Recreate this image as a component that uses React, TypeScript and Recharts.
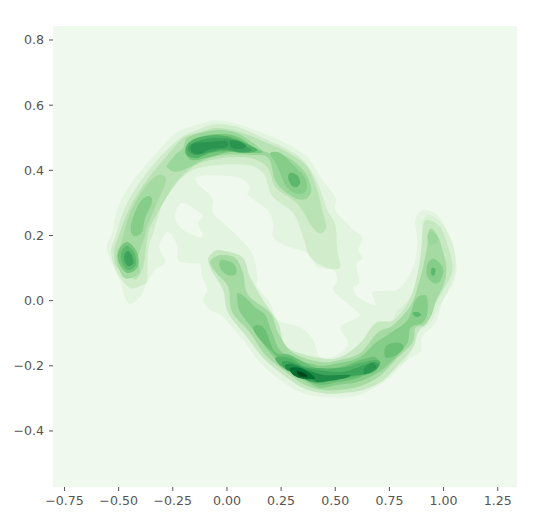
import { ScatterChart, Scatter, XAxis, YAxis, CartesianGrid } from 'recharts';

type Pt = [number, number];

const xTicks = [-0.75, -0.5, -0.25, 0, 0.25, 0.5, 0.75, 1, 1.25];
const yTicks = [-0.4, -0.2, 0, 0.2, 0.4, 0.6, 0.8];

const bgColor = '#f0f9ee';
const greens = ['#e3f4e0', '#d0ecca', '#c6e8c0', '#bae3b5', '#a5dba3', '#9ad79a', '#85cd88', '#78c67c', '#6cc075', '#5cb86c', '#52b366', '#3da35a', '#2a9450', '#1f8a46', '#006f30', '#00441b', '#d8f0d3'];

// lightest band, the whole S
const level1: Pt[] = [[-.457,-.007],[-.494,.063],[-.554,.155],[-.530,.207],[-.503,.287],[-.438,.364],[-.355,.431],[-.249,.508],[-.170,.533],[-.045,.554],[.061,.539],[.167,.514],[.260,.487],[.371,.441],[.431,.379],[.500,.318],[.500,.278],[.569,.226],[.625,.193],[.606,.155],[.625,.131],[.597,.109],[.611,.054],[.583,.042],[.606,.011],[.685,-.014],[.671,.026],[.731,.030],[.800,.039],[.860,.103],[.879,.177],[.870,.247],[.907,.278],[.971,.263],[1.022,.207],[1.059,.115],[1.045,.054],[.999,.002],[.962,-.068],[.902,-.111],[.893,-.158],[.833,-.182],[.754,-.234],[.662,-.274],[.569,-.296],[.463,-.296],[.352,-.284],[.246,-.244],[.153,-.191],[.075,-.121],[-.018,-.050],[-.078,-.029],[-.110,.002],[-.091,.033],[-.115,.073],[-.124,.112],[-.170,.115],[-.226,.125],[-.230,.171],[-.272,.211],[-.309,.177],[-.309,.155],[-.286,.118],[-.332,.094],[-.369,.054],[-.401,.011]];
const holeA: Pt[] = [[-.239,.257],[-.207,.300],[-.115,.263],[-.133,.238],[-.115,.195],[-.202,.217]];
const holeB: Pt[] = [[-.138,.379],[-.064,.385],[.061,.376],[.107,.346],[.098,.324],[.186,.278],[.213,.238],[.213,.195],[.260,.171],[.371,.146],[.417,.103],[.491,.094],[.509,.063],[.491,.033],[.537,.002],[.606,-.038],[.602,-.053],[.523,-.081],[.560,-.130],[.509,-.167],[.431,-.173],[.398,-.121],[.338,-.081],[.237,-.060],[.200,-.007],[.140,.042],[.140,.073],[.116,.146],[.029,.211],[-.064,.269],[-.068,.315],[-.138,.361]];

const level2Right: Pt[] = [[.768,-.060],[.847,.011],[.883,.085],[.902,.177],[.902,.238],[.930,.263],[.985,.241],[1.041,.177],[1.055,.103],[1.022,.033],[.976,-.020],[.939,-.068],[.883,-.096],[.860,-.142],[.800,-.191]];
const level2Upper: Pt[] = [[-.447,.039],[-.507,.085],[-.535,.146],[-.517,.192],[-.470,.287],[-.401,.364],[-.323,.431],[-.216,.499],[-.138,.524],[-.045,.542],[.061,.530],[.167,.499],[.260,.471],[.352,.431],[.417,.364],[.463,.278],[.500,.232],[.509,.155],[.523,.103],[.463,.100],[.384,.134],[.352,.195],[.306,.269],[.213,.318],[.167,.392],[.093,.416],[-.045,.416],[-.156,.401],[-.230,.361],[-.295,.300],[-.318,.257],[-.341,.207],[-.364,.155],[-.369,.063],[-.392,.048]];
const level2Lower: Pt[] = [[-.031,.155],[.070,.134],[.107,.072],[.167,.002],[.237,-.069],[.278,-.143],[.431,-.176],[.523,-.173],[.615,-.130],[.685,-.069],[.768,-.060],[.837,-.004],[.870,.054],[.893,.134],[.907,.232],[.930,.247],[.985,.226],[1.022,.164],[1.041,.094],[.999,.033],[.953,-.019],[.925,-.068],[.883,-.096],[.860,-.142],[.800,-.191],[.722,-.244],[.629,-.274],[.523,-.284],[.445,-.284],[.352,-.268],[.260,-.228],[.167,-.176],[.093,-.112],[.006,-.038],[-.018,.033],[-.064,.085],[-.087,.125],[-.064,.149]];

const level3Upper: Pt[] = [[-.438,.069],[-.507,.103],[-.521,.149],[-.503,.192],[-.447,.287],[-.369,.370],[-.286,.438],[-.202,.499],[-.124,.517],[-.045,.530],[.061,.517],[.177,.487],[.278,.456],[.371,.410],[.417,.339],[.440,.278],[.458,.226],[.431,.207],[.394,.226],[.338,.287],[.292,.315],[.223,.349],[.186,.410],[.107,.438],[-.018,.438],[-.124,.422],[-.193,.392],[-.249,.349],[-.346,.238],[-.369,.186],[-.387,.103],[-.415,.069]];
const level3Lower: Pt[] = [[-.031,.140],[.038,.131],[.075,.085],[.098,.017],[.200,-.038],[.237,-.099],[.306,-.161],[.431,-.188],[.523,-.182],[.615,-.161],[.694,-.099],[.768,-.075],[.847,-.016],[.883,.048],[.907,.109],[.925,.171],[.930,.211],[.948,.220],[.976,.195],[.999,.146],[1.013,.103],[1.004,.054],[.967,.002],[.944,-.044],[.911,-.075],[.870,-.084],[.856,-.130],[.777,-.182],[.699,-.234],[.602,-.265],[.509,-.274],[.440,-.274],[.361,-.259],[.278,-.222],[.177,-.167],[.107,-.099],[.024,-.035],[.006,.042],[-.041,.079],[-.078,.118]];

const level4Left: Pt[] = [[-.318,.385],[-.281,.370],[-.323,.300],[-.369,.226],[-.378,.201],[-.410,.134],[-.405,.085],[-.475,.070],[-.510,.134],[-.484,.186],[-.447,.269],[-.378,.349]];
const level4Top: Pt[] = [[-.276,.416],[-.239,.447],[-.202,.469],[-.184,.499],[-.110,.517],[-.031,.524],[.047,.514],[.121,.484],[.177,.456],[.260,.447],[.352,.401],[.389,.346],[.371,.315],[.324,.312],[.260,.339],[.223,.370],[.190,.438],[.107,.447],[-.018,.447],[-.110,.431],[-.179,.407],[-.239,.395],[-.272,.407]];
const level4Spot: Pt[] = [[-.027,.125],[.033,.112],[.042,.082],[.001,.079],[-.031,.100]];
const level4Lower: Pt[] = [[.052,.023],[.084,.011],[.130,-.020],[.177,-.044],[.209,-.099],[.260,-.161],[.417,-.198],[.523,-.191],[.615,-.173],[.685,-.130],[.754,-.099],[.833,-.060],[.870,.002],[.907,.017],[.925,.008],[.925,-.038],[.902,-.068],[.847,-.084],[.833,-.130],[.768,-.182],[.694,-.222],[.602,-.250],[.509,-.259],[.431,-.268],[.371,-.250],[.292,-.219],[.200,-.161],[.130,-.096],[.061,-.035],[.047,.011]];
const level4Oval: Pt[] = [[.957,.128],[.990,.109],[.999,.088],[.981,.057],[.953,.054],[.925,.073],[.921,.100],[.930,.118]];
const level4Head: Pt[] = [[.948,.211],[.971,.195],[.967,.177],[.939,.171],[.925,.192],[.930,.207]];

const level5Left: Pt[] = [[-.360,.321],[-.346,.303],[-.378,.253],[-.392,.211],[-.424,.198],[-.443,.211],[-.438,.247],[-.401,.303]];
const level5Tip: Pt[] = [[-.460,.180],[-.415,.148],[-.412,.103],[-.460,.085],[-.500,.118],[-.500,.155]];
const level5Top: Pt[] = [[-.193,.468],[-.161,.493],[-.091,.508],[.001,.511],[.061,.499],[.121,.471],[.167,.456],[.121,.453],[.015,.456],[-.078,.441],[-.156,.431],[-.189,.447]];
const level5Arm: Pt[] = [[.200,.453],[.246,.453],[.306,.416],[.361,.376],[.366,.339],[.329,.327],[.278,.346],[.246,.392],[.223,.425]];
const level5Lower: Pt[] = [[.144,-.075],[.177,-.090],[.223,-.158],[.292,-.167],[.417,-.207],[.523,-.204],[.615,-.182],[.685,-.173],[.694,-.207],[.602,-.238],[.509,-.250],[.431,-.259],[.371,-.244],[.301,-.213],[.209,-.158],[.144,-.112],[.121,-.084]];
const level5Patch: Pt[] = [[.731,-.142],[.768,-.130],[.810,-.133],[.810,-.152],[.763,-.173],[.731,-.173]];
const level5Fleck: Pt[] = [[.856,-.038],[.879,-.035],[.897,-.044],[.874,-.050]];
const level5Dot: Pt[] = [[.945,.100],[.962,.097],[.958,.078],[.944,.080]];

const level6Lower: Pt[] = [[.223,-.176],[.292,-.176],[.371,-.204],[.523,-.207],[.615,-.191],[.685,-.182],[.708,-.191],[.676,-.219],[.583,-.234],[.491,-.244],[.417,-.253],[.338,-.234],[.260,-.207]];
const level6Top: Pt[] = [[-.184,.478],[-.138,.499],[-.064,.508],[.015,.502],[.084,.484],[.140,.462],[.075,.453],[.001,.459],[-.078,.453],[-.138,.438],[-.184,.447]];
const level6Arm: Pt[] = [[.292,.392],[.324,.385],[.338,.364],[.324,.349],[.301,.352],[.283,.376]];
const level6Tip: Pt[] = [[-.458,.168],[-.425,.143],[-.422,.108],[-.458,.094],[-.488,.122],[-.486,.152]];

const level7Lower: Pt[] = [[.255,-.188],[.301,-.188],[.371,-.207],[.523,-.219],[.629,-.198],[.676,-.188],[.703,-.198],[.662,-.222],[.569,-.231],[.477,-.238],[.398,-.250],[.324,-.228],[.269,-.207]];
const level7Top: Pt[] = [[-.175,.475],[-.133,.490],[-.064,.499],[.015,.496],[.075,.478],[.116,.462],[.061,.456],[-.008,.465],[-.078,.456],[-.138,.447],[-.175,.456]];
const level7Tip: Pt[] = [[-.456,.152],[-.436,.135],[-.433,.114],[-.456,.106],[-.474,.125],[-.472,.143]];

const level8TopLeft: Pt[] = [[-.161,.481],[-.091,.487],[-.004,.490],[-.004,.471],[-.078,.465],[-.124,.450],[-.161,.456]];
const level8TopRight: Pt[] = [[.015,.490],[.052,.490],[.089,.475],[.061,.465],[.019,.471]];
const level8Lower: Pt[] = [[.269,-.198],[.306,-.195],[.371,-.213],[.445,-.228],[.523,-.228],[.569,-.228],[.545,-.238],[.431,-.250],[.398,-.244],[.324,-.222],[.278,-.213]];
const level8Spot: Pt[] = [[.634,-.207],[.671,-.191],[.690,-.204],[.662,-.219],[.634,-.225]];

const level9: Pt[] = [[.292,-.207],[.338,-.207],[.394,-.228],[.403,-.240],[.352,-.240],[.306,-.228]];
const level10: Pt[] = [[.324,-.216],[.361,-.225],[.370,-.234],[.334,-.231]];

// painted back to front, holes go over the first band
const contours: { pts: Pt[]; color: string }[] = [
  { pts: level1, color: greens[0] },
  { pts: holeA, color: bgColor },
  { pts: holeB, color: bgColor },
  { pts: level2Right, color: greens[16] },
  { pts: level2Upper, color: greens[1] },
  { pts: level2Lower, color: greens[2] },
  { pts: level3Upper, color: greens[3] },
  { pts: level3Lower, color: greens[4] },
  { pts: level4Left, color: greens[4] },
  { pts: level4Top, color: greens[5] },
  { pts: level4Spot, color: greens[6] },
  { pts: level4Lower, color: greens[6] },
  { pts: level4Oval, color: greens[6] },
  { pts: level4Head, color: greens[5] },
  { pts: level5Left, color: greens[6] },
  { pts: level5Tip, color: greens[7] },
  { pts: level5Top, color: greens[7] },
  { pts: level5Arm, color: greens[6] },
  { pts: level5Lower, color: greens[8] },
  { pts: level5Patch, color: greens[8] },
  { pts: level5Fleck, color: greens[9] },
  { pts: level5Dot, color: greens[9] },
  { pts: level6Lower, color: greens[10] },
  { pts: level6Top, color: greens[10] },
  { pts: level6Arm, color: greens[9] },
  { pts: level6Tip, color: greens[9] },
  { pts: level7Lower, color: greens[11] },
  { pts: level7Top, color: greens[11] },
  { pts: level7Tip, color: greens[11] },
  { pts: level8TopLeft, color: greens[12] },
  { pts: level8TopRight, color: greens[12] },
  { pts: level8Lower, color: greens[13] },
  { pts: level8Spot, color: greens[12] },
  { pts: level9, color: greens[14] },
  { pts: level10, color: greens[15] },
];

const tickStyle = { fontSize: 12.6, fontFamily: 'DejaVu Sans', fill: '#555555' };
const minus = (s: string) => s.replace('-', '\u2212');

// closed catmull-rom through the scaled points, so the outline stays on the traced values
function closedPath(points: { x: number; y: number }[]) {
  const n = points.length;
  let d = `M${points[0].x},${points[0].y}`;
  for (let i = 0; i < n; i++) {
    const p0 = points[(i - 1 + n) % n];
    const p1 = points[i];
    const p2 = points[(i + 1) % n];
    const p3 = points[(i + 2) % n];
    d += `C${p1.x + (p2.x - p0.x) / 6},${p1.y + (p2.y - p0.y) / 6},${p2.x - (p3.x - p1.x) / 6},${p2.y - (p3.y - p1.y) / 6},${p2.x},${p2.y}`;
  }
  return d + 'Z';
}

export default function App() {
  return (
    <ScatterChart width={519} height={508} margin={{ top: 18, right: 10, bottom: 0, left: 0 }}>
      <CartesianGrid horizontal={false} vertical={false} fill={bgColor} />
      <XAxis
        type="number"
        dataKey="x"
        domain={[-0.803, 1.339]}
        ticks={xTicks}
        height={29}
        axisLine={false}
        tickSize={4}
        tickMargin={5}
        tickLine={{ stroke: '#555555' }}
        tick={tickStyle}
        tickFormatter={(v: number) => minus(v.toFixed(2))}
        interval={0}
        allowDataOverflow
      />
      <YAxis
        type="number"
        dataKey="y"
        domain={[-0.572, 0.843]}
        ticks={yTicks}
        width={45}
        axisLine={false}
        tickSize={4}
        tickMargin={5}
        tickLine={{ stroke: '#555555' }}
        tick={tickStyle}
        tickFormatter={(v: number) => minus(v.toFixed(1))}
        interval={0}
        allowDataOverflow
      />
      {contours.map((c, i) => (
        <Scatter
          key={i}
          data={c.pts.map(([x, y]) => ({ x, y }))}
          fill={c.color}
          line={(props: any) => <path d={closedPath(props.points)} fill={c.color} stroke="none" />}
          shape={() => null}
          isAnimationActive={false}
        />
      ))}
    </ScatterChart>
  );
}
